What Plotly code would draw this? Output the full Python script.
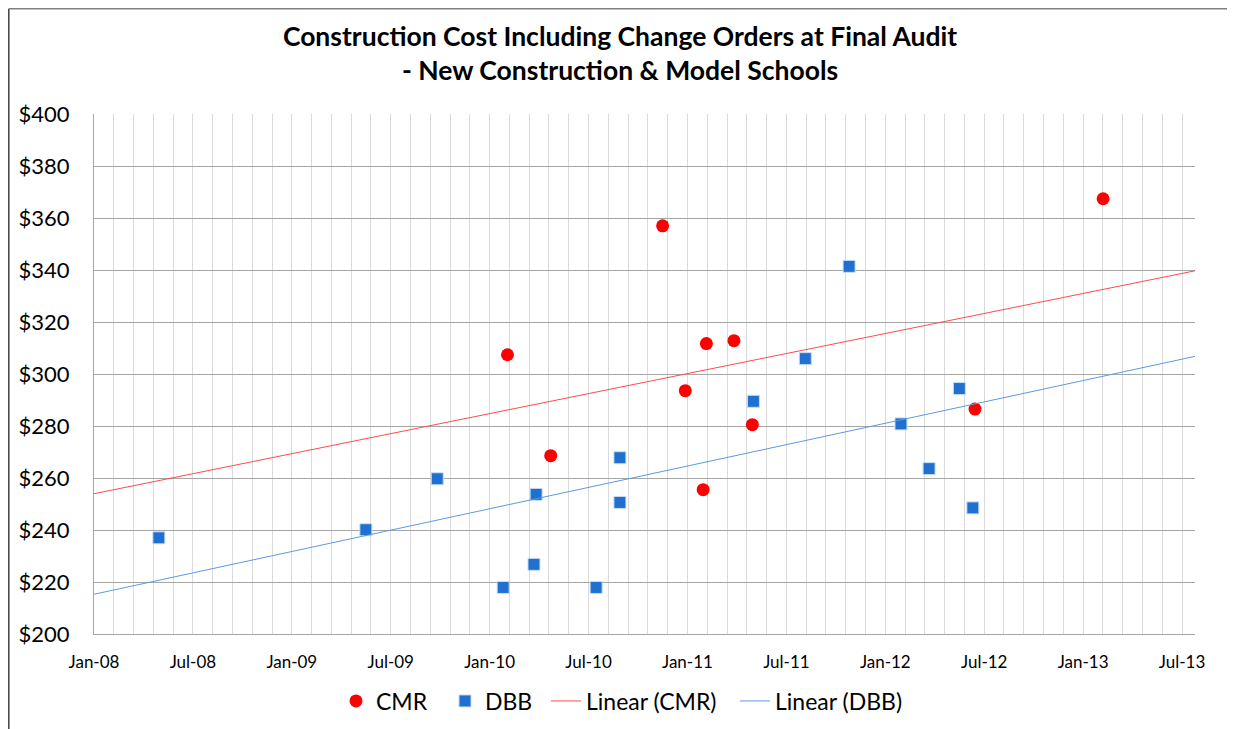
import numpy as np
import pandas as pd
import plotly.graph_objects as go

# ---- data ----
cmr_dates = ["2010-02-04", "2010-04-25", "2010-11-18", "2010-12-30", "2011-02-07",
             "2011-03-30", "2011-02-01", "2011-05-03", "2012-06-18", "2013-02-10"]
cmr_values = [307.4, 268.6, 357.0, 293.6, 311.7, 312.8, 255.5, 280.5, 286.5, 367.4]

dbb_dates = ["2008-04-30", "2009-05-18", "2009-09-27", "2010-01-27", "2010-03-25",
             "2010-03-29", "2010-07-18", "2010-08-31", "2010-08-31", "2011-05-05",
             "2011-08-09", "2011-10-29", "2012-02-02", "2012-03-25", "2012-05-20",
             "2012-06-14"]
dbb_values = [237.0, 240.1, 259.7, 217.9, 226.8, 253.7, 217.9, 267.8, 250.6, 289.5,
              305.9, 341.4, 280.8, 263.6, 294.4, 248.5]

tick_labels = ["Jan-08", "Jul-08", "Jan-09", "Jul-09", "Jan-10", "Jul-10",
               "Jan-11", "Jul-11", "Jan-12", "Jul-12", "Jan-13", "Jul-13"]
y_ticks = [200, 220, 240, 260, 280, 300, 320, 340, 360, 380, 400]

title_text = "Construction Cost Including Change Orders at Final Audit<br>- New Construction & Model Schools"

# ---- axis setup ----
x_start = pd.Timestamp("2008-01-01")
x_end = x_start + pd.Timedelta(days=2037)
major_days = 183
tick_vals = [x_start + pd.Timedelta(days=major_days * k) for k in range(len(tick_labels))]


def trend(dates, values):
    d = pd.to_datetime(pd.Series(dates))
    t = (d - x_start).dt.days.to_numpy(dtype=float)
    slope, icpt = np.polyfit(t, np.array(values, dtype=float), 1)
    t_end = (x_end - x_start).days
    xs = [x_start, x_end]
    ys = [icpt, icpt + slope * t_end]
    return xs, ys


cmr_tx, cmr_ty = trend(cmr_dates, cmr_values)
dbb_tx, dbb_ty = trend(dbb_dates, dbb_values)

FONT = "Lato, 'Open Sans', sans-serif"

fig = go.Figure()
fig.add_trace(go.Scatter(x=pd.to_datetime(cmr_dates), y=cmr_values, mode="markers", name="CMR",
                         legendwidth=64,
                         marker=dict(symbol="circle", size=13, color="#FF0000",
                                     line=dict(width=0))))
fig.add_trace(go.Scatter(x=pd.to_datetime(dbb_dates), y=dbb_values, mode="markers", name="DBB",
                         legendwidth=56,
                         marker=dict(symbol="square", size=12, color="#1F70D0",
                                     line=dict(width=1, color="#C9DDF3"))))
fig.add_trace(go.Scatter(x=cmr_tx, y=cmr_ty, mode="lines", name="Linear (CMR)",
                         legendwidth=144,
                         line=dict(color="#FF4B4B", width=1)))
fig.add_trace(go.Scatter(x=dbb_tx, y=dbb_ty, mode="lines", name="Linear (DBB)",
                         legendwidth=132,
                         line=dict(color="#5B9BDF", width=1)))

# page body has an 8px margin, so the figure is sized/placed relative to that
OFF = 8
W, H = 1235 - OFF, 729 - OFF
ml, mt = 94 - OFF, 114 - OFF
mr = W - (1195 - OFF)
mb = H - (634 - OFF)
pw, ph = W - ml - mr, H - mt - mb

fig.update_layout(
    width=W, height=H,
    margin=dict(l=ml, r=mr, t=mt, b=mb, autoexpand=False),
    paper_bgcolor="white", plot_bgcolor="white",
    font=dict(family=FONT, color="#000000"),
    title=dict(text=title_text, x=(620 - OFF) / W, xanchor="center", y=1 - (45.5 - OFF) / H,
               yanchor="middle",
               font=dict(family=FONT, size=26.5, color="#000000", weight="bold")),
    showlegend=True,
    legend=dict(orientation="h", x=(336 - OFF - ml) / pw, xanchor="left",
                y=-(701 - 634) / ph, yanchor="middle",
                font=dict(family=FONT, size=23, color="#000000"),
                bgcolor="rgba(0,0,0,0)"),
    xaxis=dict(type="date", range=[x_start, x_end],
               tickmode="array", tickvals=tick_vals, ticktext=tick_labels,
               tickfont=dict(family=FONT, size=17, color="#000000"),
               ticklabelstandoff=13,
               showgrid=True, gridcolor="#DADADA", gridwidth=1,
               minor=dict(tick0=x_start, dtick=major_days / 5 * 86400000, showgrid=True,
                          gridcolor="#DADADA", gridwidth=1, ticks=""),
               showline=True, linecolor="#A6A6A6", linewidth=1,
               ticks="", zeroline=False),
    yaxis=dict(range=[200, 400], tickmode="array", tickvals=y_ticks,
               ticktext=["$" + str(v) for v in y_ticks],
               tickfont=dict(family=FONT, size=22, color="#000000"),
               ticklabelstandoff=19,
               showgrid=True, gridcolor="#A6A6A6", gridwidth=1,
               showline=True, linecolor="#A6A6A6", linewidth=1,
               ticks="", ticklen=0, zeroline=False),
)

# outer chart border (left and top edges visible in the reference)
bx0 = (0.8 - ml) / pw
by1 = 1 + (mt - 0.8) / ph
fig.add_shape(type="line", xref="paper", yref="paper", x0=bx0, x1=bx0, y0=-(H - mt) / ph - 0.05, y1=by1,
              line=dict(color="#404040", width=1.5))
fig.add_shape(type="line", xref="paper", yref="paper", x0=bx0, x1=(W + 10 - ml) / pw, y0=by1, y1=by1,
              line=dict(color="#808080", width=1.5))

fig.write_html("out.html")
